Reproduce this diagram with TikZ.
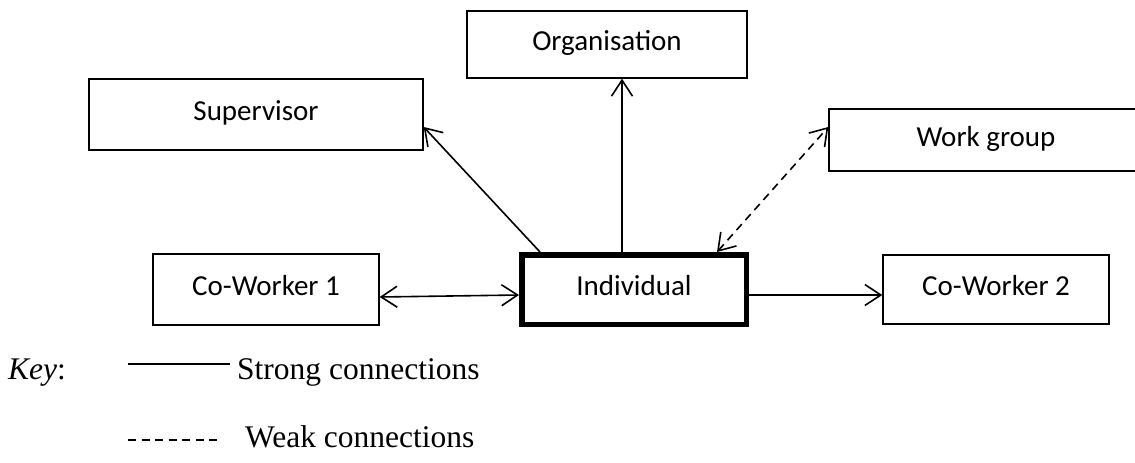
\documentclass[tikz,border=0pt]{standalone}
\usepackage{fontspec}
\setmainfont{Liberation Serif}
\newfontfamily\boxfont{Carlito}
\usetikzlibrary{arrows.meta}

\begin{document}
\begin{tikzpicture}[x=1pt, y=-1pt,
    box/.style={draw, line width=1.4pt, inner sep=0pt, font=\boxfont\fontsize{29}{34}\selectfont, text height=20pt, text depth=8pt},
    link/.style={line width=1.6pt},
    weak/.style={link, dash pattern=on 8pt off 5.5pt},
    keytext/.style={anchor=base west, inner sep=0pt, font=\fontsize{31.5}{36}\selectfont},
    >={Straight Barb[length=16pt,width=21pt]}]
    \useasboundingbox (0,0) rectangle (1135,463);

    \node[box, minimum width=280pt, minimum height=67pt] (O) at (607,44.5) {Organisation};
    \node[box, minimum width=334pt, minimum height=71pt] (S) at (256,114.5) {Supervisor};
    \node[box, minimum width=314pt, minimum height=62pt] (W) at (986,140) {Work group};
    \node[box, minimum width=226pt, minimum height=71pt] (C1) at (266,289.5) {Co-Worker 1};
    \node[box, line width=5.5pt, minimum width=224.5pt, minimum height=69.5pt] (I) at (634,289.5) {Individual};
    \node[box, minimum width=226pt, minimum height=69pt] (C2) at (996,289.5) {Co-Worker 2};

    \draw[link, ->] ([xshift=-94pt]I.north) -- ([yshift=-12.5pt]S.east);
    \draw[link, ->] ([xshift=-12pt]I.north) -- ([xshift=-12pt]I.north |- O.south);
    \draw[weak, <->] ([xshift=83pt]I.north) -- ([yshift=13pt]W.west);
    \draw[link, <->] ([yshift=-7.5pt]C1.east) -- ([yshift=-5.5pt]I.west);
    \draw[link, ->] ([yshift=-5.5pt]I.east) -- ([yshift=-5.5pt]I.east -| C2.west);

    % key
    \node[keytext] (K) at (8,379) {\textit{Key}:};
    \coordinate (s1) at (128,364);
    \coordinate (s2) at (230,364);
    \draw[link] (s1) -- (s2);
    \node[keytext] (strong) at (237,379) {Strong connections};
    \coordinate (w1) at (128,440);
    \coordinate (w2) at (221,440);
    \draw[weak] (w1) -- (w2);
    \node[keytext] (weakc) at (245,447) {Weak connections};
\end{tikzpicture}
\end{document}
